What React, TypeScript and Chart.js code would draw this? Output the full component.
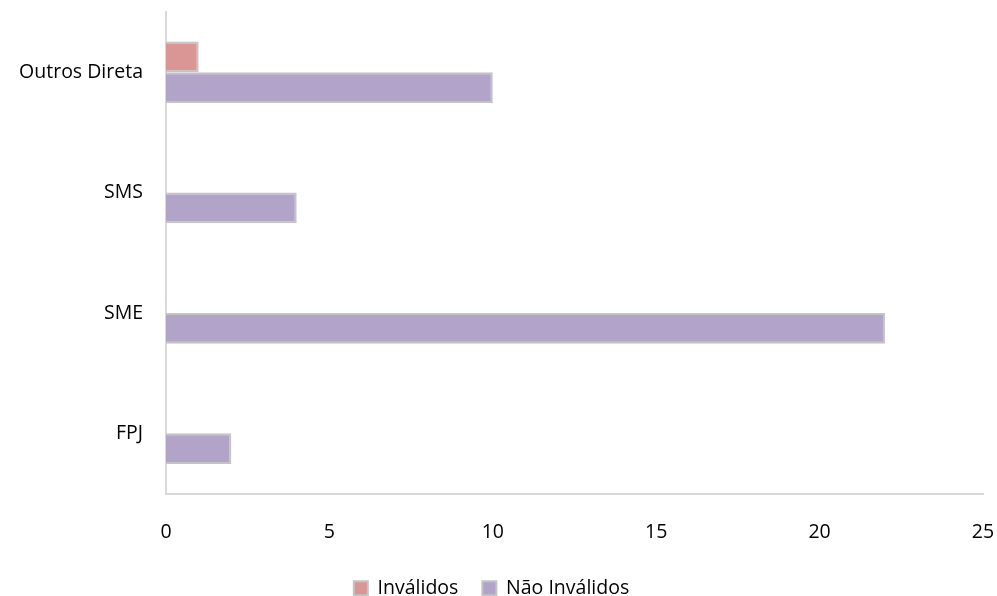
import React, { useEffect, useRef } from "react";
import { Chart, registerables } from "chart.js";

Chart.register(...registerables);

const categories = ["Outros Direta", "SMS", "SME", "FPJ"];
const invalidos = [1, 0, 0, 0];
const naoInvalidos = [10, 4, 22, 2];
const xTicks = [0, 5, 10, 15, 20, 25];

export default function App() {
  const ref = useRef<HTMLCanvasElement | null>(null);
  useEffect(() => {
    document.body.style.margin = "0";
    const ctx = ref.current!;
    const font = { family: "'Open Sans', 'Liberation Sans', sans-serif", size: 19.5 };
    const chart = new Chart(ctx, {
      type: "bar",
      data: {
        labels: categories,
        datasets: [
          {
            label: "Inválidos",
            data: invalidos,
            backgroundColor: "#D99694",
            borderColor: "#C4C4C4",
            borderWidth: 2,
            categoryPercentage: 0.51,
            barPercentage: 1,
          },
          {
            label: "Não Inválidos",
            data: naoInvalidos,
            backgroundColor: "#B2A3C9",
            borderColor: "#C4C4C4",
            borderWidth: 2,
            categoryPercentage: 0.51,
            barPercentage: 1,
          },
        ],
      },
      options: {
        indexAxis: "y",
        animation: false,
        responsive: false,
        layout: { padding: { top: 12, right: 14, left: 0, bottom: -12 } },
        plugins: {
          tooltip: { enabled: false },
          legend: {
            position: "bottom",
            labels: {
              font,
              color: "#000",
              boxWidth: 14,
              boxHeight: 14,
              padding: 24,
            },
          },
        },
        scales: {
          x: {
            min: 0,
            max: 25,
            afterBuildTicks: (s: any) => {
              s.ticks = xTicks.map((v) => ({ value: v }));
            },
            grid: { display: false },
            border: { display: true, color: "#D9D9D9", width: 2 },
            ticks: { font, color: "#000", padding: 19 },
            afterFit: (s: any) => {
              s.height = 61;
              s.paddingLeft = 0;
              s.paddingRight = 0;
            },
          },
          y: {
            grid: { display: false },
            border: { display: true, color: "#D9D9D9", width: 2 },
            ticks: { font, color: "#000", padding: 15 },
            afterFit: (s: any) => {
              s.width = 166;
              s.paddingTop = 0;
              s.paddingBottom = 0;
            },
          },
        },
      },
    });
    return () => chart.destroy();
  }, []);
  return (
    <div style={{ width: 997, height: 596 }}>
      <canvas ref={ref} width={997} height={596} style={{ width: 997, height: 596 }} />
    </div>
  );
}
